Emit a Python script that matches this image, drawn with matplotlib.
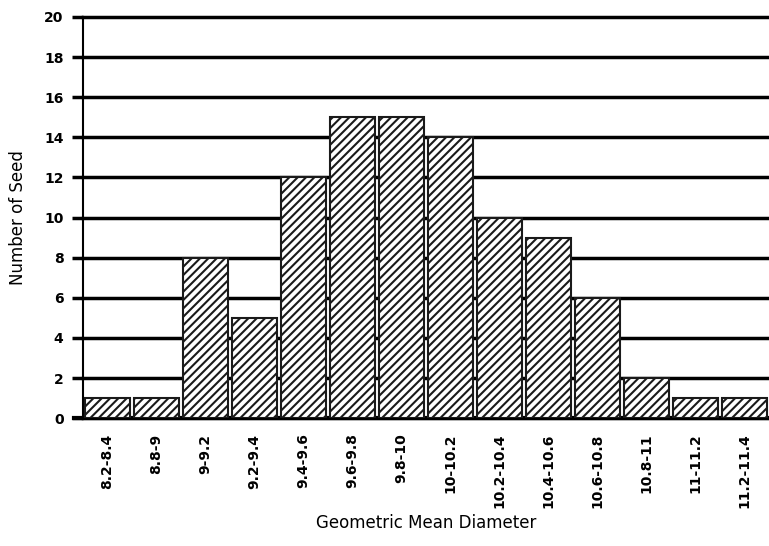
import matplotlib.pyplot as plt

plt.rcParams['hatch.linewidth'] = 1.5

categories = ["8.2-8.4", "8.8-9", "9-9.2", "9.2-9.4", "9.4-9.6", "9.6-9.8", "9.8-10",
              "10-10.2", "10.2-10.4", "10.4-10.6", "10.6-10.8", "10.8-11", "11-11.2", "11.2-11.4"]
counts = [1, 1, 8, 5, 12, 15, 15, 14, 10, 9, 6, 2, 1, 1]
yticks = [0, 2, 4, 6, 8, 10, 12, 14, 16, 18, 20]

fig = plt.figure(figsize=(7.69, 5.46), dpi=100)
ax = fig.add_axes([0.108, 0.234, 0.892, 0.735])

x = range(len(categories))
ax.bar(x, counts, width=0.93, color='white', edgecolor='#1a1a1a', linewidth=1.5,
       hatch='////', zorder=3)

ax.set_xlim(-0.5, len(categories) - 0.5)
ax.set_ylim(0, 20)
ax.set_yticks(yticks)
ax.yaxis.grid(True, color='black', linewidth=2.5, zorder=0)
for gl in ax.get_ygridlines():
    gl.set_clip_on(False)
ax.set_axisbelow(True)

ax.set_xticks(list(x))
ax.set_xticklabels(categories, rotation=90, fontsize=10, fontweight='bold')
ax.tick_params(axis='x', length=0, pad=11)
ax.tick_params(axis='y', length=8, width=2.5, labelsize=10, pad=6)
for lab in ax.get_yticklabels():
    lab.set_fontweight('bold')

for s in ['top', 'right']:
    ax.spines[s].set_visible(False)
ax.spines['left'].set_linewidth(1.5)
ax.spines['bottom'].set_linewidth(3)
ax.spines['bottom'].set_bounds(-0.68, len(categories) - 0.5)
ax.spines['bottom'].set_clip_on(False)

ax.set_ylabel("Number of Seed", fontsize=12, labelpad=12)
ax.set_xlabel("Geometric Mean Diameter", fontsize=12, labelpad=4)

fig.savefig("out.png", dpi=100)
